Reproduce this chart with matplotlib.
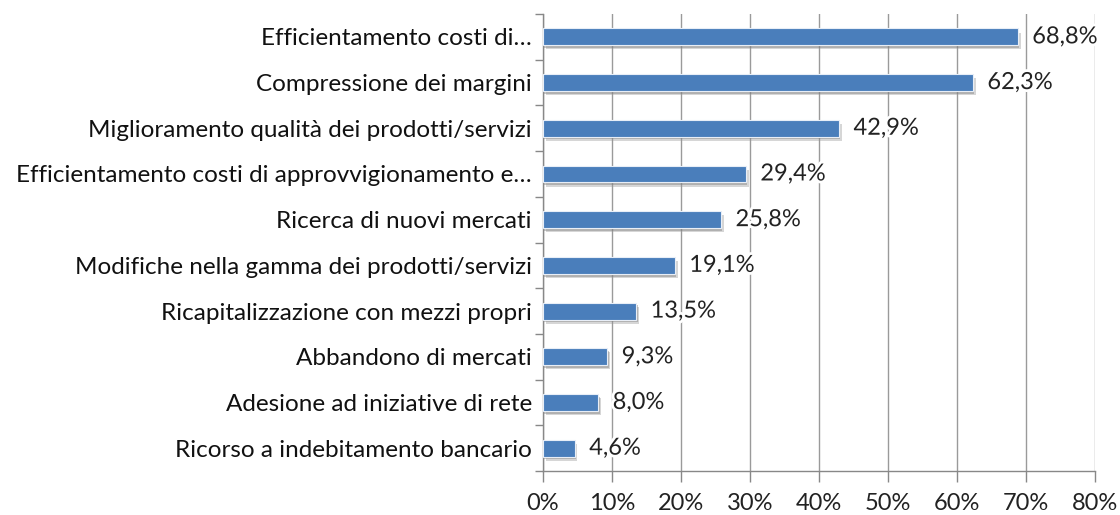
import matplotlib
matplotlib.use("Agg")
import matplotlib.pyplot as plt
import matplotlib.patheffects as pe
import numpy as np

plt.rcParams['font.family'] = ['Lato', 'DejaVu Sans']

categories = [
    "Efficientamento costi di…",
    "Compressione dei margini",
    "Miglioramento qualità dei prodotti/servizi",
    "Efficientamento costi di approvvigionamento e…",
    "Ricerca di nuovi mercati",
    "Modifiche nella gamma dei prodotti/servizi",
    "Ricapitalizzazione con mezzi propri",
    "Abbandono di mercati",
    "Adesione ad iniziative di rete",
    "Ricorso a indebitamento bancario",
]
values = [68.8, 62.3, 42.9, 29.4, 25.8, 19.1, 13.5, 9.3, 8.0, 4.6]
xticks = [0, 10, 20, 30, 40, 50, 60, 70, 80]

fig = plt.figure(figsize=(11.2, 5.15), dpi=100)
ax = fig.add_axes([0.4848, 0.0854, 0.4929, 0.8874])

y = np.arange(len(categories))[::-1]
bars = ax.barh(y, values, height=0.37, color='#4A7EBB', edgecolor='#E8EEF7',
               linewidth=0.8, zorder=3)
for b in bars:
    b.set_path_effects([pe.SimplePatchShadow(offset=(2, -3), shadow_rgbFace='#999999', alpha=0.4),
                        pe.SimplePatchShadow(offset=(1, -2), shadow_rgbFace='#777777', alpha=0.4),
                        pe.Normal()])

for yi, v in zip(y, values):
    ax.text(v + 2.1, yi, f"{v:.1f}%".replace('.', ','), va='center', ha='left',
            fontsize=17, color='#222222', zorder=4,
            path_effects=[pe.withStroke(linewidth=4, foreground='white')])

ax.set_xlim(0, 80)
ax.set_ylim(-0.5, len(categories) - 0.5)
ax.set_xticks(xticks)
ax.set_xticklabels([f"{t}%" for t in xticks], fontsize=17, color='#222222')
ax.set_yticks(y)
ax.set_yticklabels(categories, fontsize=17.5, color='#111111')
ax.set_yticks(np.arange(len(categories) + 1) - 0.5, minor=True)
ax.tick_params(axis='y', which='major', length=0, pad=8)
ax.tick_params(axis='y', which='minor', length=6, color='#888888', width=1)
ax.tick_params(axis='x', length=8, color='#888888', width=1, pad=8)

ax.grid(axis='x', color='#9A9A9A', linewidth=1, zorder=0)
for s in ['top', 'right']:
    ax.spines[s].set_visible(False)
for s in ['left', 'bottom']:
    ax.spines[s].set_color('#888888')
    ax.spines[s].set_linewidth(1)

fig.savefig("out.png", dpi=100)
